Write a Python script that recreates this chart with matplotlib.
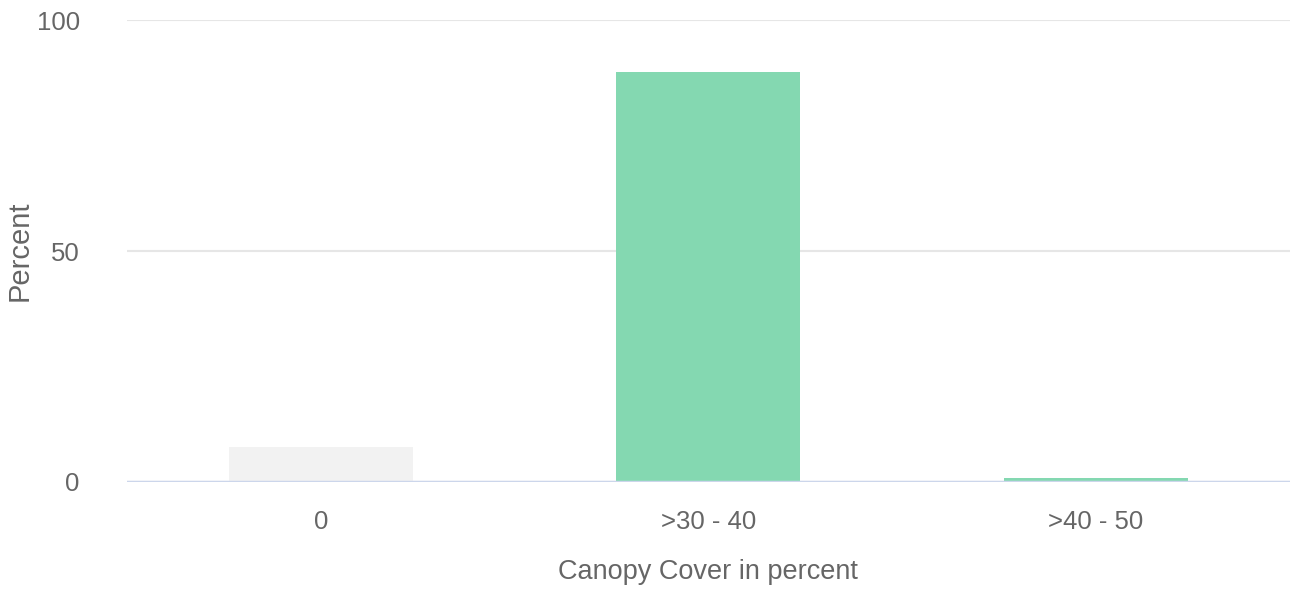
import matplotlib.pyplot as plt
from matplotlib import font_manager

# data
categories = ['0', '>30 - 40', '>40 - 50']
percent = [7.5, 88.8, 0.8]
bar_colors = ['#f2f2f2', '#84d8b1', '#84d8b1']

names = {f.name for f in font_manager.fontManager.ttflist}
family = 'Liberation Sans Narrow' if 'Liberation Sans Narrow' in names else 'Liberation Sans'
plt.rcParams['font.family'] = [family, 'DejaVu Sans']

fig = plt.figure(figsize=(12.96, 5.92), dpi=100)
ax = fig.add_axes([0.098, 0.186, 0.897, 0.780])

x = range(len(categories))
ax.bar(x, percent, width=0.476, color=bar_colors, zorder=3)

ax.set_xlim(-0.5, 2.5)
ax.set_ylim(0, 100)
ax.set_yticks([0, 50, 100])
ax.set_xticks(list(x))
ax.set_xticklabels(categories)

# gridlines and baseline
ax.yaxis.grid(True, color='#e6e6e6', linewidth=1.5, zorder=0)
ax.axhline(0, color='#ccd6eb', linewidth=2.5, zorder=4)
for s in ax.spines.values():
    s.set_visible(False)
ax.tick_params(axis='both', length=0, labelsize=18.5, colors='#666666')
ax.tick_params(axis='y', pad=34)
ax.tick_params(axis='x', pad=20)

ax.set_xlabel('Canopy Cover in percent', fontsize=19.5, color='#666666', labelpad=18)
ax.set_ylabel('Percent', fontsize=21, color='#666666')
ax.yaxis.set_label_coords(-0.08, 0.5)

fig.savefig('out.png', dpi=100)
